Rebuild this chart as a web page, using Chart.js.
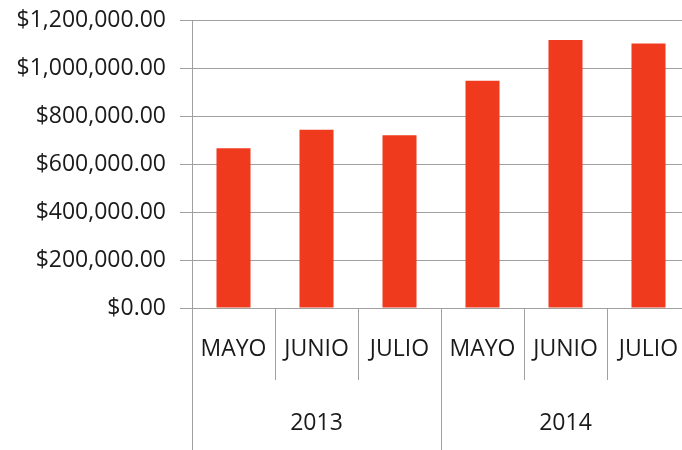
<!DOCTYPE html>
<html>
<head>
<meta charset="utf-8">
<script src="https://cdn.jsdelivr.net/npm/chart.js@4"></script>
<style>
  html, body { margin: 0; padding: 0; background: #fff; overflow: hidden; }
  #wrap { position: relative; top: -7px; width: 694px; height: 457px; }
</style>
</head>
<body>
<div id="wrap"><canvas id="ventasChart"></canvas></div>
<script>
const meses = ['MAYO', 'JUNIO', 'JULIO', 'MAYO', 'JUNIO', 'JULIO'];
const anios = ['2013', '2014'];
const ventas = [668000, 745000, 722000, 950000, 1120000, 1105000];

const fuente = "'Open Sans', sans-serif";
const gris = '#a0a0a0';

const ctx = document.getElementById('ventasChart').getContext('2d');
new Chart(ctx, {
    type: 'bar',
    data: {
        labels: meses,
        datasets: [{
            label: 'Ventas',
            data: ventas,
            backgroundColor: '#f03a1e',
            borderWidth: 0,
            barPercentage: 0.41,
            categoryPercentage: 1.0
        }]
    },
    options: {
        responsive: true,
        maintainAspectRatio: false,
        animation: false,
        layout: { padding: { top: 0, left: 5, right: 4, bottom: 0 } },
        plugins: {
            legend: { display: false },
            tooltip: { enabled: false }
        },
        scales: {
            y: {
                min: 0,
                max: 1200000,
                afterFit: s => { s.width = 187; },
                ticks: {
                    stepSize: 200000,
                    padding: 14,
                    color: '#1a1a1a',
                    font: { family: fuente, size: 23 },
                    callback: v => '$' + v.toLocaleString('en-US', { minimumFractionDigits: 2, maximumFractionDigits: 2 })
                },
                grid: { color: gris, tickLength: 12, lineWidth: 1 },
                border: { color: gris }
            },
            x: {
                position: 'bottom',
                afterFit: s => { s.height = 72; },
                grid: { drawOnChartArea: false, offset: true, tickLength: 72, color: gris },
                border: { color: gris },
                ticks: {
                    padding: -44,
                    color: '#1a1a1a',
                    font: { family: fuente, size: 23 }
                }
            },
            x2: {
                type: 'category',
                labels: anios,
                position: 'bottom',
                offset: true,
                afterFit: s => { s.height = 70; },
                grid: { drawOnChartArea: false, offset: true, tickLength: 150, color: gris },
                border: { display: false },
                ticks: {
                    padding: -120,
                    color: '#1a1a1a',
                    font: { family: fuente, size: 23 }
                }
            }
        }
    }
});
</script>
</body>
</html>
